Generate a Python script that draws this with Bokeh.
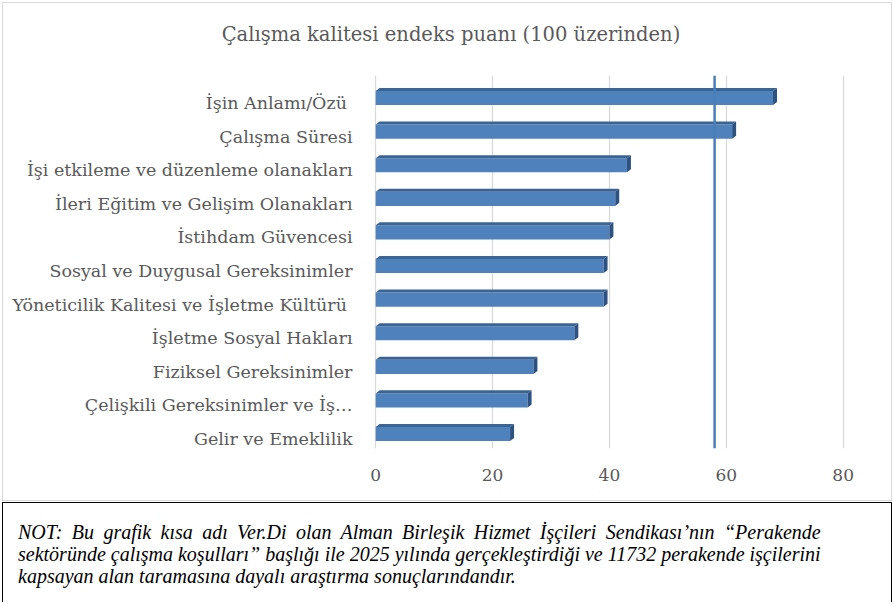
from bokeh.plotting import figure
from bokeh.models import Span, Div, FixedTicker, ColumnDataSource
from bokeh.layouts import column
from bokeh.embed import file_html
from bokeh.resources import INLINE

# ---- data ----
categories = [
    "İşin Anlamı/Özü ",
    "Çalışma Süresi",
    "İşi etkileme ve düzenleme olanakları",
    "İleri Eğitim ve Gelişim Olanakları",
    "İstihdam Güvencesi",
    "Sosyal ve Duygusal Gereksinimler",
    "Yöneticilik Kalitesi ve İşletme Kültürü ",
    "İşletme Sosyal Hakları",
    "Fiziksel Gereksinimler",
    "Çelişkili Gereksinimler ve İş…",
    "Gelir ve Emeklilik",
]
values = [68, 61, 43, 41, 40, 39, 39, 34, 27, 26, 23]
average = 58
x_ticks = [0, 20, 40, 60, 80]
title_text = "Çalışma kalitesi endeks puanı (100 üzerinden)"
note_lines = [
    "NOT: Bu grafik kısa adı Ver.Di olan Alman Birleşik Hizmet İşçileri Sendikası’nın “Perakende",
    "sektöründe çalışma koşulları” başlığı ile 2025 yılında gerçekleştirdiği ve 11732 perakende işçilerini",
    "kapsayan alan taramasına dayalı araştırma sonuçlarındandır.",
]

# ---- style constants ----
OFF, H, DY, DX = 0.15, 0.42, 0.09, 0.68
FRONT, TOP, SIDE = "#4f81bd", "#3a6494", "#2d5282"
GREY = "#595959"
FRAME_GREY = "1px solid #d9d9d9"

n = len(categories)
ypos = [n - 1 - k for k in range(n)]
yc = [y + OFF for y in ypos]

front = ColumnDataSource(dict(y=yc, right=values))
top_xs = [[0, DX, v + DX, v] for v in values]
top_ys = [[y + H / 2, y + H / 2 + DY, y + H / 2 + DY, y + H / 2] for y in yc]
side_xs = [[v, v, v + DX, v + DX] for v in values]
side_ys = [[y - H / 2, y + H / 2, y + H / 2 + DY, y - H / 2 + DY] for y in yc]

title_div = Div(text=title_text, width=888, height=65, margin=0,
                styles={"text-align": "center", "padding": "20px 0 0 8px",
                        "box-sizing": "border-box",
                        "font-family": "'DejaVu Serif'", "font-size": "19.5px",
                        "line-height": "24px", "color": GREY, "background": "white"})

p = figure(width=888, height=432, x_range=(-2.6, 81.6), y_range=(-0.28, 10.82),
           output_backend="svg", toolbar_location=None, margin=0,
           min_border_left=357, min_border_right=39, min_border_top=7, min_border_bottom=52)
p.outline_line_color = None
p.background_fill_color = "white"

p.ygrid.visible = False
p.xgrid.grid_line_color = "#d9d9d9"
p.xgrid.grid_line_width = 1.3
p.xaxis.ticker = FixedTicker(ticks=x_ticks)
p.xaxis.axis_line_color = None
p.xaxis.major_tick_line_color = None
p.xaxis.minor_tick_line_color = None
p.xaxis.major_label_standoff = 14
p.xaxis.major_label_text_font = "DejaVu Serif"
p.xaxis.major_label_text_font_size = "17px"
p.xaxis.major_label_text_color = GREY

p.yaxis.ticker = FixedTicker(ticks=ypos)
p.yaxis.major_label_overrides = {y: c for y, c in zip(ypos, categories)}
p.yaxis.axis_line_color = None
p.yaxis.major_tick_line_color = None
p.yaxis.minor_tick_line_color = None
p.yaxis.major_label_standoff = 2
p.yaxis.major_label_text_font = "DejaVu Serif"
p.yaxis.major_label_text_font_size = "17.5px"
p.yaxis.major_label_text_color = GREY

p.hbar(y="y", left=0, right="right", height=H, source=front, fill_color=FRONT, line_color=None)
p.patches(top_xs, top_ys, fill_color=TOP, line_color=None)
p.patches(side_xs, side_ys, fill_color=SIDE, line_color=None)

p.add_layout(Span(location=average, dimension="height", line_color="#4a7ebb", line_width=2.5))

chart = column(title_div, p, spacing=0, margin=0,
               styles={"border": FRAME_GREY})

html = "".join(
    f'<div style="text-align:justify;text-align-last:justify;">{line}</div>' for line in note_lines[:2]
) + f'<div>{note_lines[2]}</div>'
note_div = Div(text=html, width=890, height=100, margin=(1, 0, 0, 0),
               styles={"border": "1px solid #000", "border-bottom": "none",
                       "box-sizing": "border-box",
                       "padding": "18px 11px 0 15px", "font-family": "'Liberation Serif'",
                       "font-style": "italic", "font-size": "20px", "line-height": "22px",
                       "color": "#000", "background": "white"})

layout = column(chart, note_div, spacing=0, margin=(2, 0, 0, 2))
open("out.html", "w").write(file_html(layout, INLINE))
